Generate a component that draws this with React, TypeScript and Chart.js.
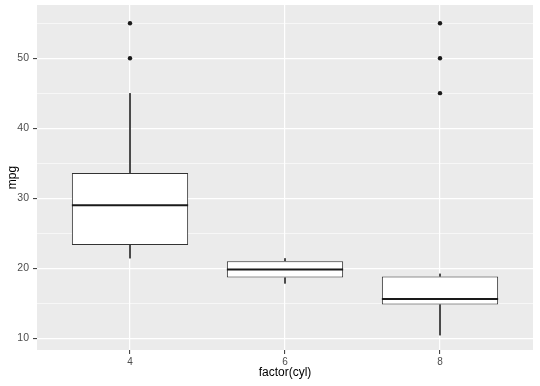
import React, { useEffect, useRef } from 'react';
import { Chart, registerables } from 'chart.js';

Chart.register(...registerables);

// ---- data ----
const categories = ['4', '6', '8'];
const q1 = [23.3, 18.65, 14.8];
const medians = [29.0, 19.8, 15.6];
const q3 = [33.6, 21.0, 18.8];
const whiskerLow = [21.4, 17.8, 10.4];
const whiskerHigh = [45.0, 21.4, 19.2];
const outliers = [[50, 55], [], [45, 50, 55]];
const yGridTicks = [10, 15, 20, 25, 30, 35, 40, 45, 50, 55];
const yMajorTicks = [10, 20, 30, 40, 50];

const FONT = "'Liberation Sans', Arial, sans-serif";

export default function App() {
  const ref = useRef<HTMLCanvasElement | null>(null);

  useEffect(() => {
    if (!ref.current) return;

    const boxData = categories.map((_, i) => ({ x: i + 1, y: [q1[i], q3[i]] }));
    const whiskerData: any[] = [];
    categories.forEach((_, i) => {
      whiskerData.push({ x: i + 1, y: whiskerHigh[i] });
      whiskerData.push({ x: i + 1, y: q3[i] });
      whiskerData.push({ x: i + 1, y: null });
      whiskerData.push({ x: i + 1, y: q1[i] });
      whiskerData.push({ x: i + 1, y: whiskerLow[i] });
      whiskerData.push({ x: i + 1, y: null });
    });
    const outlierData: any[] = [];
    outliers.forEach((arr, i) => arr.forEach((v) => outlierData.push({ x: i + 1, y: v })));

    const panelBg = {
      id: 'panelBg',
      beforeDraw(chart: any) {
        const { ctx, chartArea } = chart;
        ctx.save();
        ctx.fillStyle = '#EBEBEB';
        ctx.fillRect(chartArea.left, chartArea.top, chartArea.right - chartArea.left, chartArea.bottom - chartArea.top);
        ctx.restore();
      },
    };

    const medianPlugin = {
      id: 'medianLines',
      afterDatasetsDraw(chart: any) {
        const meta = chart.getDatasetMeta(1);
        const yScale = chart.scales.y;
        const ctx = chart.ctx;
        ctx.save();
        ctx.strokeStyle = '#1A1A1A';
        ctx.lineWidth = 2;
        meta.data.forEach((bar: any, i: number) => {
          const y = yScale.getPixelForValue(medians[i]);
          ctx.beginPath();
          ctx.moveTo(bar.x - bar.width / 2, y);
          ctx.lineTo(bar.x + bar.width / 2, y);
          ctx.stroke();
        });
        ctx.restore();
      },
    };

    const chart = new Chart(ref.current, {
      type: 'bar',
      data: {
        datasets: [
          {
            type: 'scatter',
            label: 'whiskers',
            data: whiskerData,
            showLine: true,
            spanGaps: false,
            borderColor: '#333333',
            borderWidth: 1,
            pointRadius: 0,
            order: 3,
          } as any,
          {
            type: 'bar',
            label: 'box',
            data: boxData as any,
            backgroundColor: '#FFFFFF',
            borderColor: '#333333',
            borderWidth: 1,
            borderSkipped: false,
            barPercentage: 0.75,
            categoryPercentage: 1,
            order: 2,
          } as any,
          {
            type: 'scatter',
            label: 'outliers',
            data: outlierData,
            pointRadius: 2.2,
            pointBackgroundColor: '#1A1A1A',
            pointBorderColor: '#1A1A1A',
            pointBorderWidth: 0,
            order: 1,
          } as any,
        ],
      },
      options: {
        animation: false,
        responsive: true,
        maintainAspectRatio: false,
        layout: { padding: { top: 5, right: 7, left: 0, bottom: 0 } },
        plugins: { legend: { display: false }, tooltip: { enabled: false } },
        scales: {
          x: {
            type: 'linear',
            min: 0.4,
            max: 3.6,
            offset: false,
            afterBuildTicks: (scale: any) => {
              scale.ticks = categories.map((_, i) => ({ value: i + 1 }));
            },
            afterFit: (scale: any) => {
              scale.height = 36;
              scale.paddingLeft = 0;
              scale.paddingRight = 0;
            },
            border: { display: false },
            grid: {
              offset: false,
              color: '#FFFFFF',
              lineWidth: 1.2,
              tickLength: 4,
              tickColor: '#333333',
              tickWidth: 1,
            },
            ticks: {
              padding: 2,
              color: '#4D4D4D',
              font: { family: FONT, size: 10 },
              callback: (v: any) => categories[Number(v) - 1] ?? '',
              maxRotation: 0,
            },
            title: {
              display: true,
              text: 'factor(cyl)',
              color: '#000000',
              font: { family: FONT, size: 12 },
              padding: { top: 0, bottom: 6 },
            },
          },
          y: {
            type: 'linear',
            min: 8.3,
            max: 57.6,
            afterBuildTicks: (scale: any) => {
              scale.ticks = yGridTicks.map((v) => ({ value: v }));
            },
            afterFit: (scale: any) => {
              scale.width = 37;
              scale.paddingTop = 0;
              scale.paddingBottom = 0;
            },
            border: { display: false },
            grid: {
              color: '#FFFFFF',
              lineWidth: (c: any) => (yMajorTicks.includes(c.tick?.value) ? 1.2 : 0.6),
              tickLength: 4,
              tickColor: (c: any) => (yMajorTicks.includes(c.tick?.value) ? '#333333' : 'rgba(0,0,0,0)'),
              tickWidth: 1,
            },
            ticks: {
              padding: 4,
              color: '#4D4D4D',
              font: { family: FONT, size: 10.5 },
              callback: (v: any) => (yMajorTicks.includes(Number(v)) ? String(v) : ''),
            },
            title: {
              display: true,
              text: 'mpg',
              color: '#000000',
              font: { family: FONT, size: 12 },
              padding: { top: 5, bottom: 0 },
            },
          },
        },
      },
      plugins: [panelBg, medianPlugin],
    });

    return () => chart.destroy();
  }, []);

  return (
    <div style={{ position: 'fixed', left: 0, top: 0, width: 540, height: 386, background: '#FFFFFF' }}>
      <canvas ref={ref} />
    </div>
  );
}
